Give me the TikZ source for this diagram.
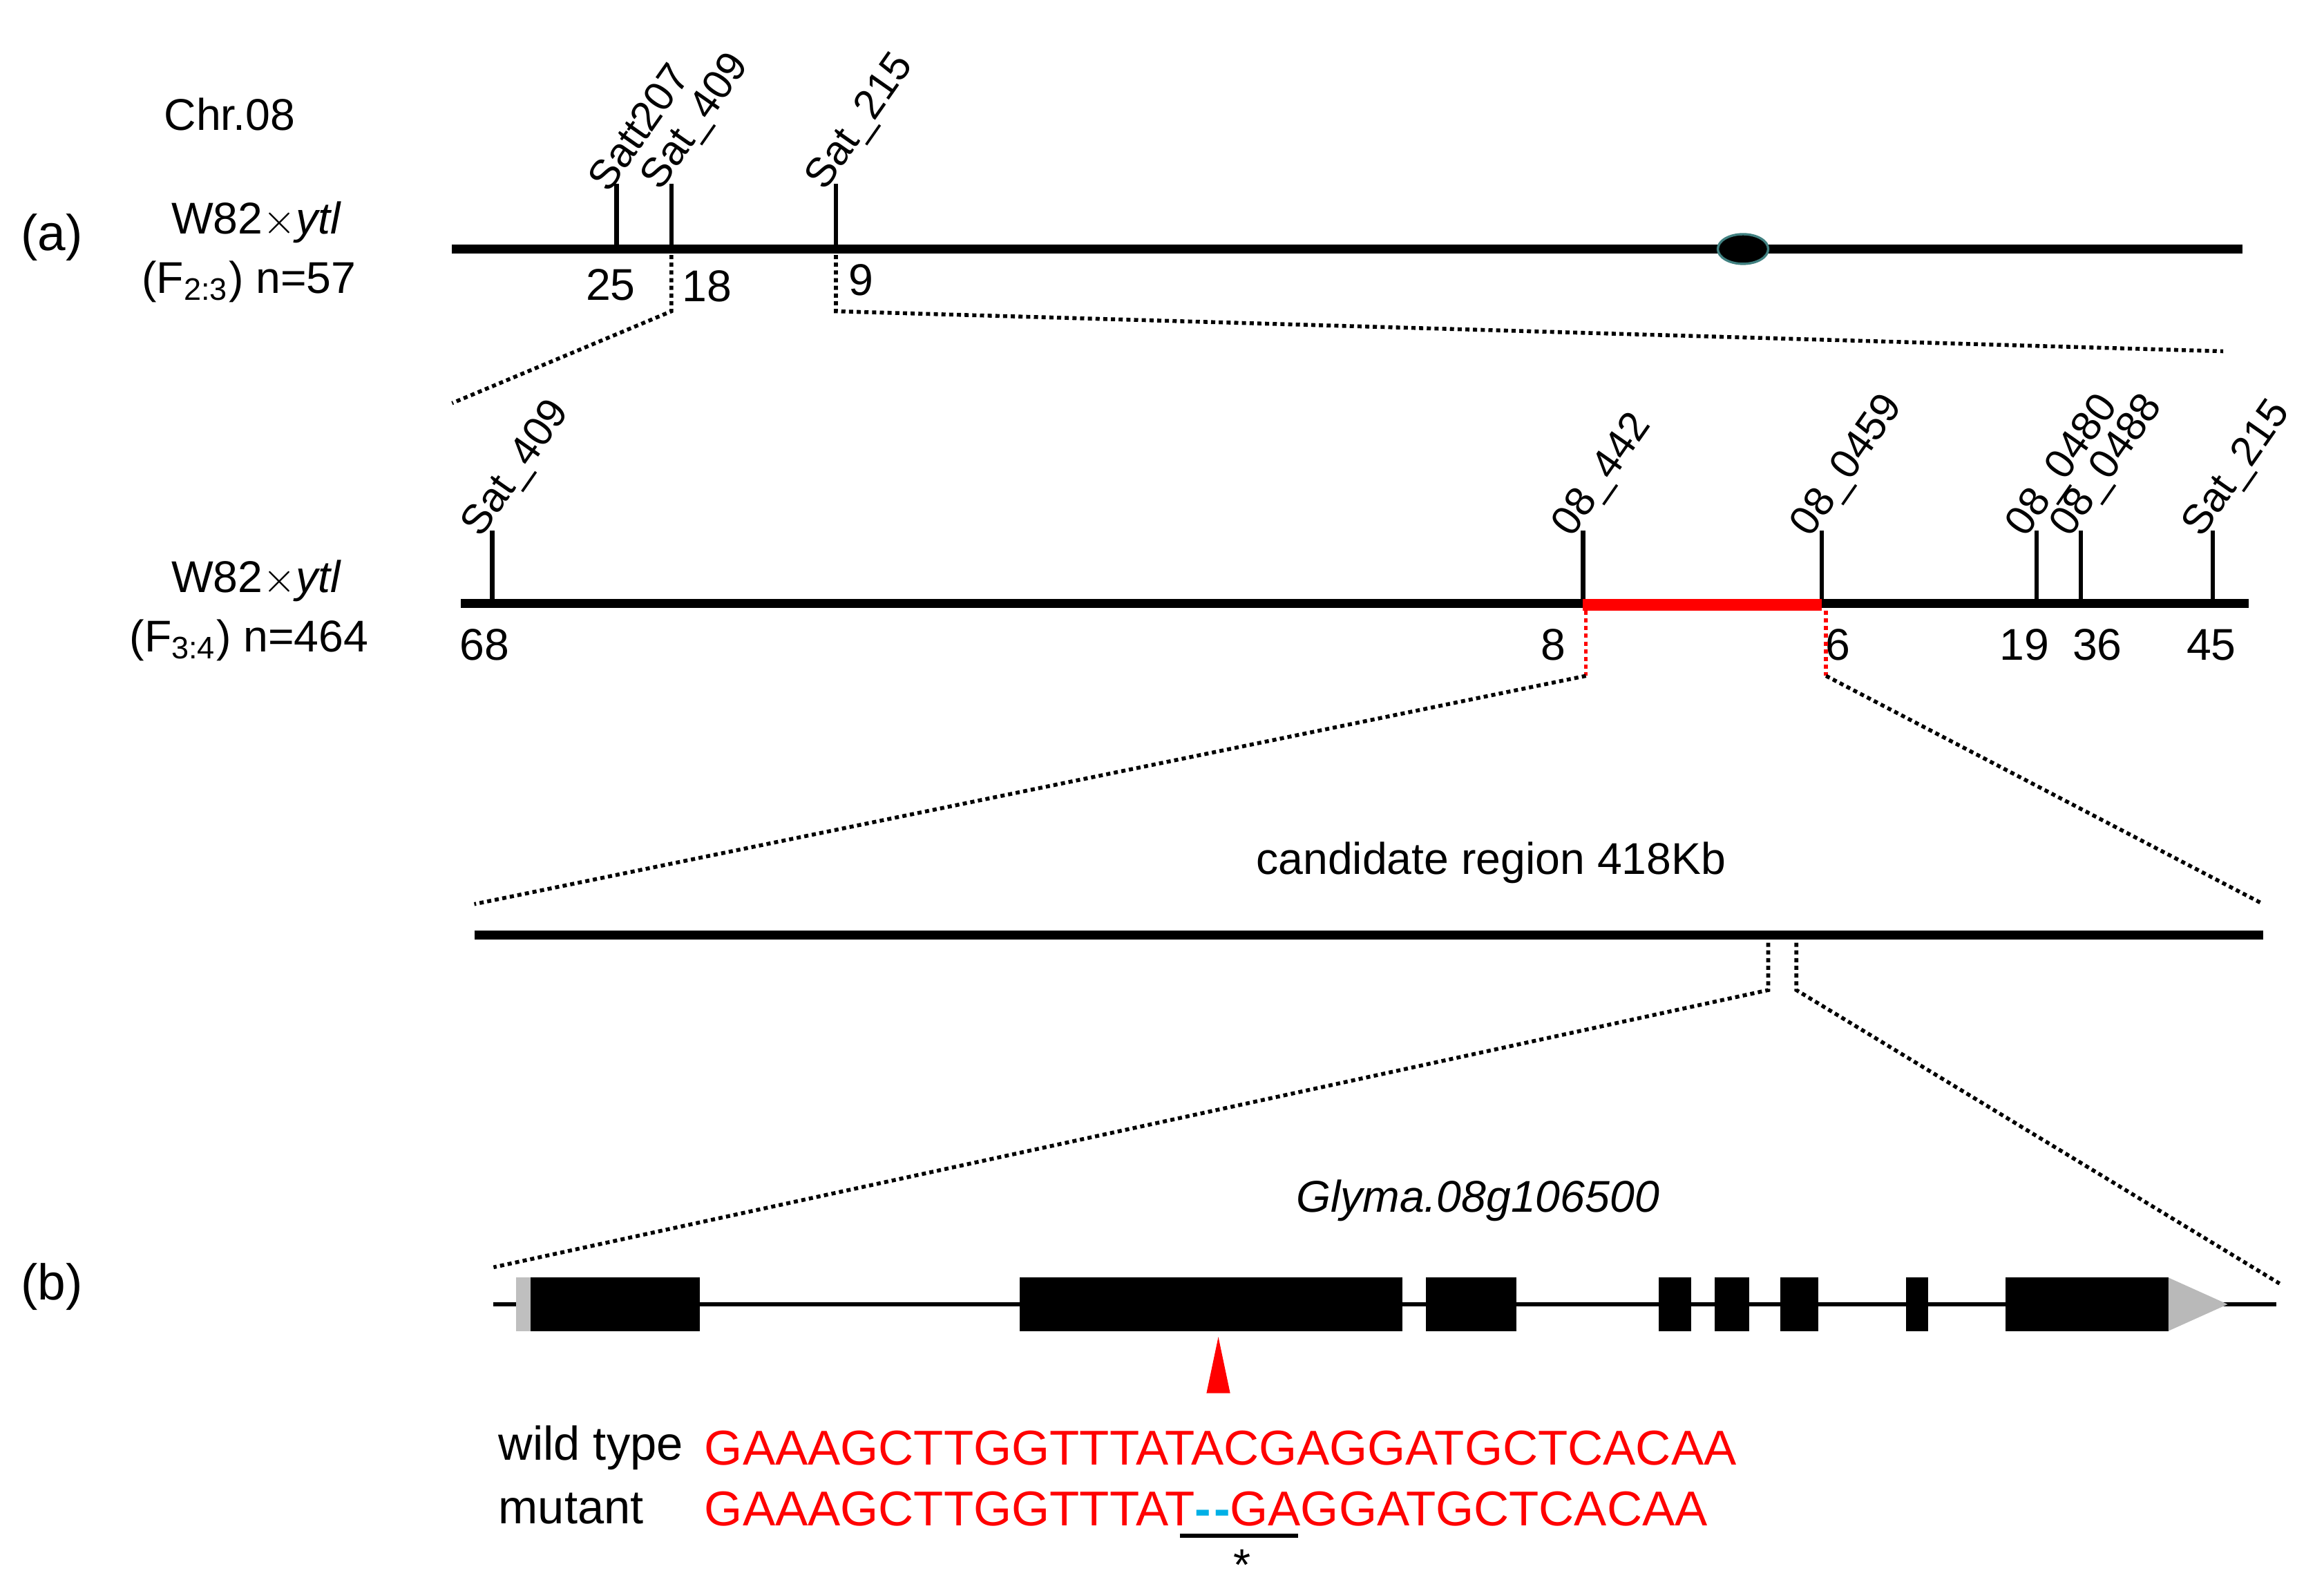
\documentclass[tikz,border=0pt]{standalone}
\usepackage{fontspec}
\setmainfont{Liberation Sans}
\usetikzlibrary{shapes.geometric}
\definecolor{seqred}{RGB}{255,0,0}
\definecolor{gapblue}{RGB}{0,176,230}
\tikzset{
  chrom/.style={line width=3pt},
  tick/.style={line width=1.5pt},
  zoomline/.style={dash pattern=on 1.4pt off 1.2pt, line width=1.3pt},
  marker/.style={rotate=55, anchor=west, font=\fontsize{14}{16}\selectfont, inner sep=1pt},
  lbl/.style={font=\fontsize{15}{17}\selectfont, inner sep=0pt},
  exon/.style={fill=black, draw=none}
}
\begin{document}
\begin{tikzpicture}[x=0.5pt, y=-0.5pt]
    \useasboundingbox (0,0) rectangle (1568,1073);
    % Beschriftung links
    \node[lbl] (chr) at (155,77) {Chr.08};
    \node[lbl, font=\fontsize{17}{19}\selectfont] (pa) at (35,160) {(a)};
    \node[lbl, font=\fontsize{17}{19}\selectfont] (pb) at (35,868) {(b)};
    \node[lbl] (crossA) at (173,150) {W82$\times$\textit{ytl}};
    \node[lbl] (popA) at (168,190) {(F\textsubscript{2:3}) n=57};
    \node[lbl] (crossB) at (173,392) {W82$\times$\textit{ytl}};
    \node[lbl] (popB) at (168,432) {(F\textsubscript{3:4}) n=464};
    % Chromosom 1
    \coordinate (c1l) at (305,168); \coordinate (c1r) at (1513,168);
    \draw[chrom] (c1l) -- (c1r);
    \foreach \x/\name in {416/Satt207, 453/Sat\_409, 564/Sat\_215}
        \draw[tick] (\x,124) -- (\x,168) node[pos=0, marker, xshift=-6pt, yshift=5pt] {\name};
    \node[ellipse, fill=black, draw=teal!50!gray, line width=0.8pt, minimum width=17pt, minimum height=10pt, inner sep=0pt] (cen) at (1176,168) {};
    \node[lbl] (n25) at (412,192) {25};
    \node[lbl] (n18) at (477,193) {18};
    \node[lbl] (n9) at (581,189) {9};
    % Vergroesserung 1
    \coordinate (z1a) at (453,172); \coordinate (z1b) at (453,210); \coordinate (z1c) at (305,272);
    \coordinate (z2a) at (564,172); \coordinate (z2b) at (564,210); \coordinate (z2c) at (1500,237);
    \draw[zoomline] (z1a) -- (z1b) -- (z1c);
    \draw[zoomline] (z2a) -- (z2b) -- (z2c);
    % Chromosom 2
    \coordinate (c2l) at (311,407); \coordinate (c2r) at (1517,407);
    \draw[chrom] (c2l) -- (c2r);
    \foreach \x/\name in {332/Sat\_409, 1068/08\_442, 1229/08\_0459, 1374/08\_0480, 1404/08\_0488, 1493/Sat\_215}
        \draw[tick] (\x,358) -- (\x,407) node[pos=0, marker, xshift=-6pt, yshift=5pt] {\name};
    \coordinate (rl) at (1068,408); \coordinate (rr) at (1229,408);
    \draw[line width=4pt, red] (rl) -- (rr);
    \foreach \x/\n in {327/68, 1048/8, 1240/6, 1366/19, 1415/36, 1492/45}
        \node[lbl] (m\n) at (\x,435) {\n};
    % Vergroesserung 2
    \coordinate (z3a) at (1070,412); \coordinate (z3b) at (1070,456); \coordinate (z3c) at (320,610);
    \coordinate (z4a) at (1232,412); \coordinate (z4b) at (1232,456); \coordinate (z4c) at (1527,610);
    \draw[zoomline, red] (z3a) -- (z3b);
    \draw[zoomline, red] (z4a) -- (z4b);
    \draw[zoomline] (z3b) -- (z3c);
    \draw[zoomline] (z4b) -- (z4c);
    % Kandidatenregion
    \node[lbl] (cand) at (1006,582) {candidate region 418Kb};
    \coordinate (c3l) at (320,631); \coordinate (c3r) at (1527,631);
    \draw[chrom] (c3l) -- (c3r);
    \coordinate (z5a) at (1193,636); \coordinate (z5b) at (1193,668); \coordinate (z5c) at (333,855);
    \coordinate (z6a) at (1212,636); \coordinate (z6b) at (1212,668); \coordinate (z6c) at (1538,866);
    \draw[zoomline] (z5a) -- (z5b) -- (z5c);
    \draw[zoomline] (z6a) -- (z6b) -- (z6c);
    % Genmodell
    \node[lbl] (gene) at (997,810) {\textit{Glyma.08g106500}};
    \coordinate (gl) at (333,880); \coordinate (gr) at (1536,880);
    \draw[line width=1.6pt] (gl) -- (gr);
    \fill[gray!50] (348,862) rectangle (358,898);
    \foreach \a/\b in {358/472, 688/946, 962/1023, 1119/1141, 1157/1180, 1201/1227, 1286/1301, 1353/1463}
        \fill[exon] (\a,862) rectangle (\b,898);
    \fill[gray!55] (1463,862) -- (1503,880) -- (1463,898) -- cycle;
    \fill[red] (822,902) -- (830,940) -- (814,940) -- cycle;
    % Sequenzen
    \node[lbl, anchor=west, font=\fontsize{16}{18}\selectfont] (wt) at (336,977) {wild type};
    \node[lbl, anchor=west, font=\fontsize{16}{18}\selectfont] (mut) at (336,1018) {mutant};
    \node[lbl, anchor=west, font=\fontsize{16.5}{18}\selectfont, text=seqred] (wtseq) at (475,977) {GAAAGCTTGGTTTATACGAGGATGCTCACAA};
    \node[lbl, anchor=west, font=\fontsize{16.5}{18}\selectfont, text=seqred] (mutseq) at (475,1018) {GAAAGCTTGGTTTAT\textcolor{gapblue}{\textbf{-\kern1pt-}}GAGGATGCTCACAA};
    \coordinate (ul) at (796,1036); \coordinate (ur) at (876,1036);
    \draw[line width=1.4pt] (ul) -- (ur);
    \node[lbl] (star) at (838,1056) {*};
\end{tikzpicture}
\end{document}
